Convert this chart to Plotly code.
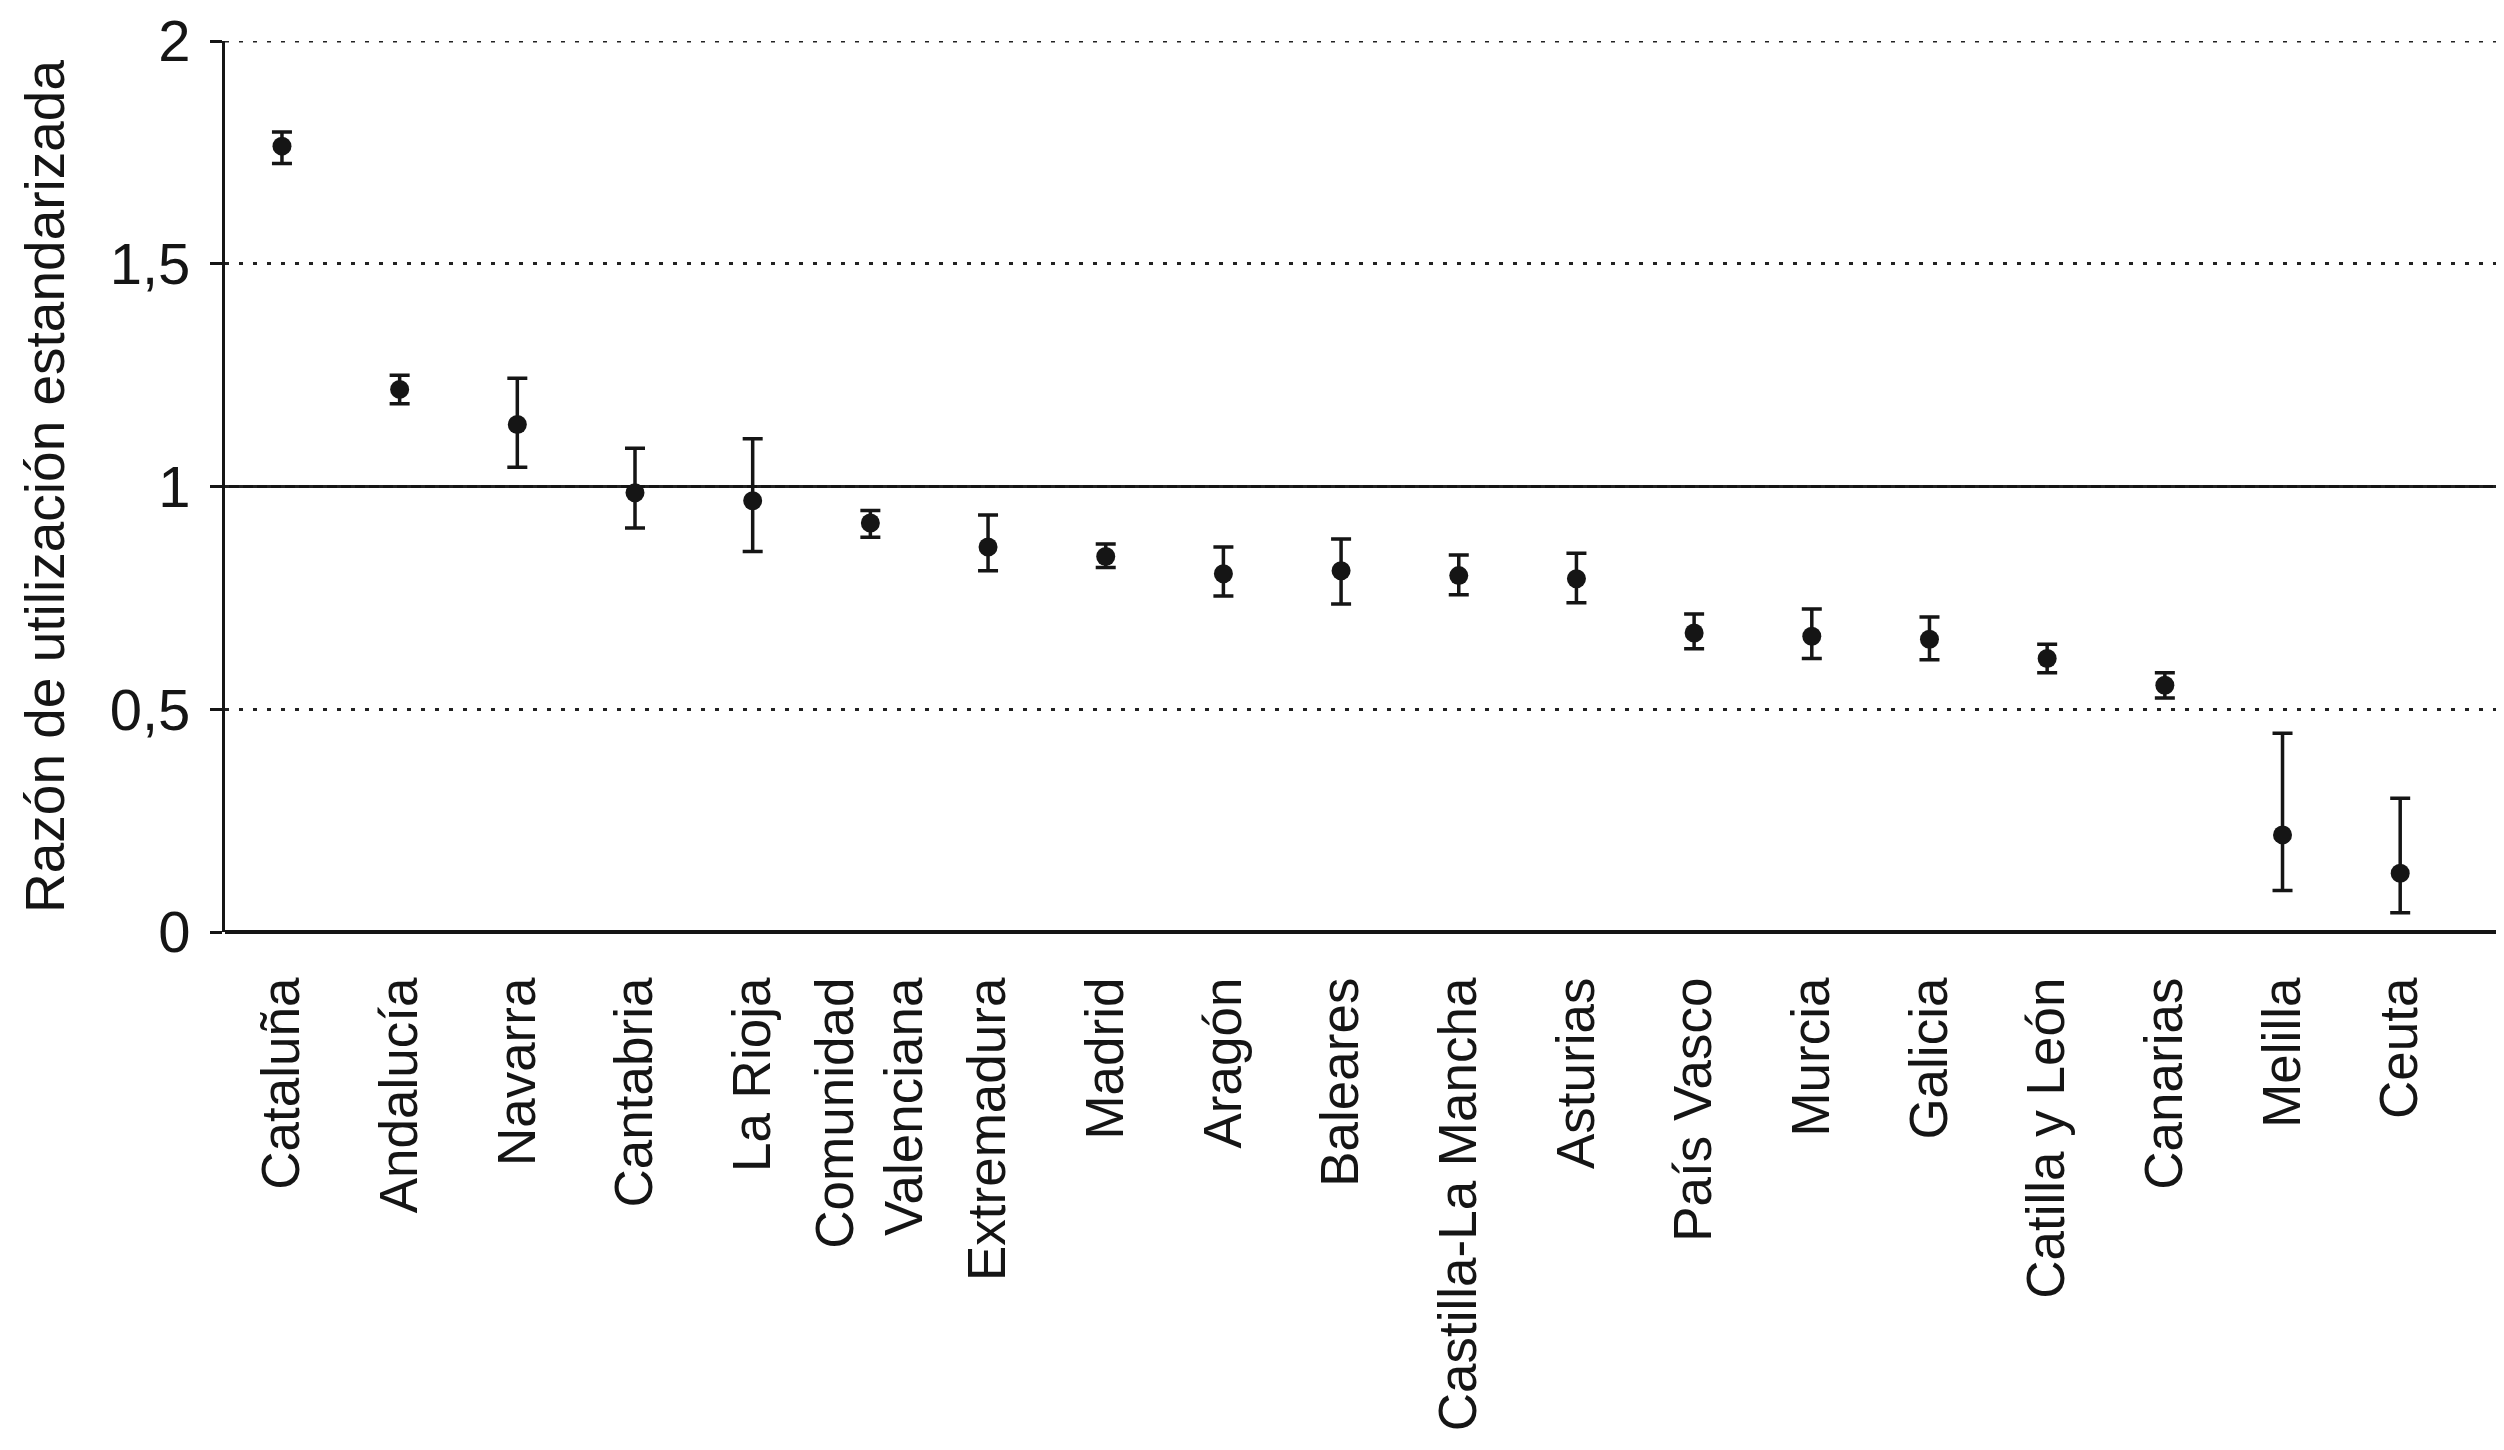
import plotly.graph_objects as go

regions = ["Cataluña", "Andalucía", "Navarra", "Cantabria", "La Rioja",
           "Comunidad<br>Valenciana", "Extremadura", "Madrid", "Aragón", "Baleares",
           "Castilla-La Mancha", "Asturias", "País Vasco", "Murcia", "Galicia",
           "Catilla y León", "Canarias", "Melilla", "Ceuta"]
rue = [1.764, 1.218, 1.139, 0.986, 0.968, 0.918, 0.864, 0.843, 0.804, 0.811,
       0.800, 0.793, 0.671, 0.664, 0.657, 0.614, 0.554, 0.218, 0.132]
ci_upper = [1.796, 1.250, 1.243, 1.086, 1.107, 0.946, 0.936, 0.871, 0.864, 0.882,
            0.846, 0.850, 0.714, 0.725, 0.707, 0.646, 0.582, 0.446, 0.300]
ci_lower = [1.725, 1.186, 1.043, 0.907, 0.854, 0.886, 0.811, 0.818, 0.754, 0.736,
            0.757, 0.739, 0.636, 0.614, 0.611, 0.582, 0.525, 0.093, 0.043]
y_ticks = [0, 0.5, 1, 1.5, 2]
y_ticklabels = ["0", "0,5", "1", "1,5", "2"]

err_plus = [u - v for u, v in zip(ci_upper, rue)]
err_minus = [v - l for v, l in zip(rue, ci_lower)]

ink = "#151515"
grid_dash = "4px,10px"
font_family = "Liberation Sans, Arial, sans-serif"

fig = go.Figure()
fig.add_trace(go.Scatter(
    x=list(range(len(regions))), y=rue, mode="markers",
    marker=dict(color=ink, size=19, symbol="circle"),
    error_y=dict(type="data", symmetric=False, array=err_plus, arrayminus=err_minus,
                 color=ink, thickness=3.5, width=10),
    showlegend=False, cliponaxis=False,
))

# reference line at 1
fig.add_hline(y=1, line=dict(color=ink, width=3), layer="below")
# top dotted gridline at 2 (range edge)
fig.add_hline(y=2, line=dict(color="#222222", width=3, dash=grid_dash), layer="below")

fig.update_layout(
    width=2504, height=1450,
    margin=dict(l=217, r=0, t=31, b=526),
    paper_bgcolor="white", plot_bgcolor="white",
    font=dict(family=font_family, size=53, color=ink),
    xaxis=dict(
        tickmode="array", tickvals=list(range(len(regions))), ticktext=regions,
        tickangle=-90, range=[-0.484, 18.95],
        showgrid=False, zeroline=False, showline=False,
        ticks="", ticklabelstandoff=34,
        tickfont=dict(size=53),
    ),
    yaxis=dict(
        range=[0, 2], tickmode="array", tickvals=y_ticks, ticktext=y_ticklabels,
        showgrid=True, gridcolor="#222222", griddash=grid_dash, gridwidth=3,
        zeroline=True, zerolinecolor=ink, zerolinewidth=4,
        showline=True, linecolor=ink, linewidth=3,
        ticks="outside", ticklen=12, tickwidth=3, tickcolor=ink,
        ticklabelstandoff=8, ticklabeloverflow="allow",
        tickfont=dict(size=58),
        title=dict(text="Razón de utilización estandarizada", standoff=28,
                   font=dict(size=55)),
    ),
)

fig.write_html("out.html")
